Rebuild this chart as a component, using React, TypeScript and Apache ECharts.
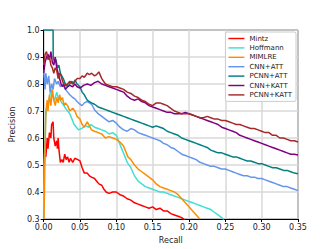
import React, { useEffect, useRef } from "react";
import * as echarts from "echarts";

const seriesNames = ["Mintz", "Hoffmann", "MIMLRE", "CNN+ATT", "PCNN+ATT", "CNN+KATT", "PCNN+KATT"];
const seriesColors = ["#ff0000", "#40e0d0", "#ff8c00", "#6495ed", "#008080", "#800080", "#a52a2a"];
const xTicks = [0, 0.05, 0.1, 0.15, 0.2, 0.25, 0.3, 0.35];
const yTicks = [0.3, 0.4, 0.5, 0.6, 0.7, 0.8, 0.9, 1.0];

const mintz = [[0.001,0.50],[0.002,0.58],[0.003,0.53],[0.005,0.6],[0.006,0.56],[0.008,0.62],[0.01,0.6],[0.011,0.65],[0.013,0.66],[0.014,0.60],[0.016,0.57],[0.018,0.59],[0.019,0.56],[0.02,0.60],[0.021,0.56],[0.023,0.51],[0.025,0.52],[0.027,0.51],[0.029,0.54],[0.031,0.52],[0.033,0.53],[0.035,0.51],[0.037,0.525],[0.04,0.51],[0.043,0.525],[0.047,0.52],[0.05,0.515],[0.053,0.49],[0.056,0.47],[0.06,0.47],[0.063,0.46],[0.066,0.455],[0.07,0.45],[0.073,0.44],[0.076,0.43],[0.08,0.425],[0.083,0.41],[0.086,0.40],[0.09,0.395],[0.095,0.40],[0.10,0.40],[0.105,0.39],[0.11,0.385],[0.115,0.375],[0.12,0.37],[0.125,0.36],[0.13,0.355],[0.135,0.35],[0.14,0.345],[0.145,0.34],[0.15,0.345],[0.155,0.335],[0.16,0.34],[0.165,0.33],[0.17,0.33],[0.175,0.32],[0.18,0.315],[0.185,0.31],[0.19,0.305],[0.195,0.295]];
const hoffmann = [[0,0.3],[0.0005,0.5],[0.002,0.6],[0.003,0.68],[0.005,0.72],[0.008,0.75],[0.01,0.78],[0.012,0.76],[0.015,0.74],[0.018,0.77],[0.02,0.75],[0.023,0.74],[0.025,0.73],[0.028,0.72],[0.03,0.71],[0.033,0.70],[0.036,0.69],[0.039,0.67],[0.042,0.65],[0.045,0.64],[0.048,0.63],[0.052,0.635],[0.055,0.64],[0.058,0.645],[0.062,0.64],[0.065,0.65],[0.07,0.64],[0.075,0.635],[0.08,0.63],[0.085,0.625],[0.09,0.615],[0.095,0.62],[0.10,0.61],[0.103,0.59],[0.106,0.57],[0.109,0.55],[0.112,0.53],[0.115,0.51],[0.12,0.49],[0.125,0.46],[0.13,0.44],[0.135,0.43],[0.14,0.42],[0.145,0.415],[0.15,0.41],[0.155,0.405],[0.16,0.40],[0.165,0.40],[0.17,0.395],[0.175,0.39],[0.18,0.385],[0.185,0.38],[0.19,0.375],[0.195,0.37],[0.20,0.365],[0.205,0.36],[0.21,0.355],[0.215,0.35],[0.22,0.345],[0.225,0.34],[0.23,0.335],[0.235,0.325],[0.24,0.315],[0.245,0.305],[0.248,0.298]];
const mimlre = [[0.0005,0.3],[0.002,0.55],[0.003,0.7],[0.005,0.74],[0.006,0.70],[0.008,0.76],[0.01,0.72],[0.012,0.78],[0.014,0.74],[0.016,0.72],[0.018,0.75],[0.02,0.73],[0.022,0.76],[0.024,0.74],[0.026,0.75],[0.028,0.72],[0.03,0.73],[0.033,0.72],[0.036,0.70],[0.04,0.71],[0.043,0.70],[0.046,0.68],[0.05,0.67],[0.053,0.65],[0.056,0.64],[0.06,0.66],[0.063,0.645],[0.066,0.63],[0.07,0.625],[0.075,0.62],[0.08,0.615],[0.085,0.60],[0.09,0.605],[0.095,0.60],[0.10,0.595],[0.105,0.585],[0.11,0.57],[0.113,0.55],[0.116,0.53],[0.12,0.52],[0.125,0.50],[0.13,0.485],[0.135,0.475],[0.14,0.465],[0.145,0.455],[0.15,0.445],[0.155,0.43],[0.16,0.42],[0.165,0.415],[0.17,0.41],[0.175,0.405],[0.18,0.40],[0.185,0.39],[0.19,0.375],[0.195,0.36],[0.20,0.345],[0.205,0.33],[0.21,0.315],[0.215,0.30]];
const cnnAtt = [[0,0.85],[0.002,0.78],[0.003,0.84],[0.005,0.80],[0.007,0.83],[0.009,0.77],[0.011,0.80],[0.013,0.78],[0.015,0.82],[0.018,0.80],[0.02,0.81],[0.023,0.79],[0.026,0.80],[0.03,0.78],[0.033,0.77],[0.036,0.76],[0.04,0.75],[0.043,0.745],[0.046,0.735],[0.05,0.725],[0.053,0.72],[0.056,0.73],[0.06,0.735],[0.063,0.73],[0.066,0.725],[0.07,0.705],[0.075,0.69],[0.08,0.68],[0.085,0.67],[0.09,0.66],[0.095,0.665],[0.10,0.655],[0.105,0.64],[0.11,0.63],[0.115,0.625],[0.12,0.635],[0.125,0.63],[0.13,0.62],[0.135,0.615],[0.14,0.61],[0.145,0.605],[0.15,0.60],[0.155,0.595],[0.16,0.59],[0.165,0.58],[0.17,0.575],[0.175,0.565],[0.18,0.56],[0.185,0.55],[0.19,0.54],[0.195,0.535],[0.20,0.53],[0.205,0.525],[0.21,0.52],[0.215,0.51],[0.22,0.505],[0.225,0.50],[0.23,0.495],[0.235,0.495],[0.24,0.49],[0.245,0.485],[0.25,0.485],[0.255,0.48],[0.26,0.475],[0.265,0.47],[0.27,0.465],[0.275,0.46],[0.28,0.46],[0.285,0.455],[0.29,0.455],[0.295,0.45],[0.30,0.45],[0.305,0.445],[0.31,0.44],[0.315,0.435],[0.32,0.43],[0.325,0.425],[0.33,0.42],[0.335,0.42],[0.34,0.415],[0.345,0.41],[0.35,0.405]];
const pcnnAtt = [[0,1.0],[0.013,1.0],[0.0132,0.90],[0.015,0.88],[0.017,0.89],[0.019,0.86],[0.021,0.87],[0.023,0.84],[0.025,0.83],[0.027,0.82],[0.03,0.80],[0.033,0.79],[0.036,0.80],[0.039,0.81],[0.041,0.80],[0.043,0.815],[0.046,0.80],[0.05,0.79],[0.053,0.77],[0.056,0.76],[0.06,0.74],[0.063,0.735],[0.066,0.73],[0.07,0.725],[0.075,0.715],[0.08,0.71],[0.085,0.705],[0.09,0.70],[0.095,0.695],[0.10,0.69],[0.105,0.685],[0.11,0.68],[0.115,0.675],[0.12,0.67],[0.125,0.665],[0.13,0.66],[0.135,0.655],[0.14,0.65],[0.145,0.645],[0.15,0.64],[0.155,0.645],[0.16,0.64],[0.165,0.635],[0.17,0.625],[0.175,0.62],[0.18,0.615],[0.185,0.61],[0.19,0.60],[0.195,0.595],[0.20,0.59],[0.205,0.585],[0.21,0.58],[0.215,0.575],[0.22,0.57],[0.225,0.565],[0.23,0.555],[0.235,0.55],[0.24,0.545],[0.245,0.545],[0.25,0.54],[0.255,0.535],[0.26,0.53],[0.265,0.53],[0.27,0.525],[0.275,0.52],[0.28,0.515],[0.285,0.515],[0.29,0.51],[0.295,0.505],[0.30,0.505],[0.305,0.50],[0.31,0.495],[0.315,0.49],[0.32,0.49],[0.325,0.485],[0.33,0.48],[0.335,0.48],[0.34,0.475],[0.345,0.47],[0.35,0.468]];
const cnnKatt = [[0,0.84],[0.002,0.88],[0.004,0.90],[0.006,0.91],[0.008,0.89],[0.01,0.92],[0.012,0.88],[0.014,0.87],[0.016,0.90],[0.018,0.86],[0.02,0.84],[0.022,0.82],[0.024,0.80],[0.026,0.79],[0.028,0.80],[0.03,0.78],[0.033,0.79],[0.036,0.795],[0.04,0.79],[0.043,0.80],[0.046,0.79],[0.05,0.785],[0.055,0.795],[0.06,0.80],[0.065,0.795],[0.07,0.805],[0.075,0.81],[0.08,0.80],[0.085,0.795],[0.09,0.79],[0.095,0.785],[0.10,0.78],[0.105,0.775],[0.11,0.77],[0.115,0.755],[0.12,0.745],[0.125,0.74],[0.13,0.745],[0.135,0.735],[0.14,0.73],[0.145,0.72],[0.15,0.715],[0.155,0.71],[0.16,0.705],[0.165,0.70],[0.17,0.695],[0.175,0.695],[0.18,0.69],[0.185,0.69],[0.19,0.69],[0.195,0.695],[0.20,0.69],[0.205,0.685],[0.21,0.68],[0.215,0.675],[0.22,0.67],[0.225,0.665],[0.23,0.66],[0.235,0.655],[0.24,0.65],[0.245,0.64],[0.25,0.635],[0.255,0.63],[0.26,0.625],[0.265,0.62],[0.27,0.61],[0.275,0.605],[0.28,0.60],[0.285,0.595],[0.29,0.59],[0.295,0.585],[0.30,0.58],[0.305,0.575],[0.31,0.57],[0.315,0.565],[0.32,0.56],[0.325,0.555],[0.33,0.55],[0.335,0.545],[0.34,0.54],[0.345,0.54],[0.35,0.537]];
const pcnnKatt = [[0,0.87],[0.002,0.91],[0.004,0.92],[0.006,0.89],[0.008,0.90],[0.01,0.87],[0.012,0.86],[0.014,0.84],[0.016,0.86],[0.018,0.85],[0.02,0.82],[0.022,0.84],[0.024,0.83],[0.026,0.81],[0.028,0.80],[0.03,0.795],[0.033,0.80],[0.036,0.81],[0.04,0.80],[0.043,0.81],[0.046,0.82],[0.05,0.82],[0.053,0.83],[0.056,0.825],[0.06,0.84],[0.063,0.835],[0.066,0.84],[0.07,0.83],[0.073,0.835],[0.076,0.845],[0.08,0.82],[0.085,0.80],[0.09,0.795],[0.095,0.79],[0.10,0.79],[0.105,0.785],[0.11,0.78],[0.115,0.77],[0.12,0.765],[0.125,0.755],[0.13,0.75],[0.135,0.74],[0.14,0.735],[0.145,0.725],[0.15,0.72],[0.155,0.73],[0.16,0.73],[0.165,0.725],[0.17,0.72],[0.175,0.71],[0.18,0.70],[0.185,0.695],[0.19,0.69],[0.195,0.69],[0.20,0.69],[0.205,0.685],[0.21,0.68],[0.215,0.675],[0.22,0.675],[0.225,0.68],[0.23,0.675],[0.235,0.67],[0.24,0.67],[0.245,0.665],[0.25,0.665],[0.255,0.66],[0.26,0.655],[0.265,0.65],[0.27,0.65],[0.275,0.645],[0.28,0.64],[0.285,0.635],[0.29,0.635],[0.295,0.63],[0.30,0.625],[0.305,0.62],[0.31,0.62],[0.315,0.61],[0.32,0.61],[0.325,0.60],[0.33,0.60],[0.335,0.595],[0.34,0.59],[0.345,0.59],[0.35,0.585]];

const seriesData = [mintz, hoffmann, mimlre, cnnAtt, pcnnAtt, cnnKatt, pcnnKatt];

const FONT = "DejaVu Sans";

export default function App() {
  const ref = useRef<HTMLDivElement>(null);
  useEffect(() => {
    if (!ref.current) return;
    const chart = echarts.init(ref.current, null, { renderer: "svg" });
    chart.setOption({
      animation: false,
      backgroundColor: "#ffffff",
      textStyle: { fontFamily: FONT },
      grid: {
        left: 41,
        right: 33,
        top: 30,
        bottom: 28,
        show: true,
        borderColor: "#000",
        borderWidth: 1,
        backgroundColor: "transparent",
      },
      legend: {
        orient: "vertical",
        right: 35,
        top: 32,
        padding: [3, 4, 3, 3],
        itemGap: 2.4,
        itemWidth: 16,
        itemHeight: 8,
        backgroundColor: "#fff",
        borderColor: "#cccccc",
        borderWidth: 1,
        borderRadius: 2,
        icon: "path://M0,0H20V1.8H0Z",
        textStyle: { fontFamily: FONT, fontSize: 7, color: "#222" },
        data: seriesNames,
      },
      xAxis: {
        type: "value",
        min: xTicks[0],
        max: xTicks[xTicks.length - 1],
        interval: 0.05,
        name: "Recall",
        nameLocation: "middle",
        nameGap: 17,
        nameTextStyle: { fontFamily: FONT, fontSize: 8, color: "#222" },
        axisLine: { show: true, lineStyle: { color: "#000", width: 1 } },
        axisTick: { show: true, length: 3, lineStyle: { color: "#000" } },
        axisLabel: {
          fontFamily: FONT,
          fontSize: 8,
          color: "#222",
          margin: 4,
          formatter: (v: number) => v.toFixed(2),
        },
        splitLine: { show: true, lineStyle: { color: "#d9d9d9", width: 1.5 } },
      },
      yAxis: {
        type: "value",
        min: yTicks[0],
        max: yTicks[yTicks.length - 1],
        interval: 0.1,
        name: "Precision",
        nameLocation: "middle",
        nameGap: 25,
        nameTextStyle: { fontFamily: FONT, fontSize: 8, color: "#222" },
        axisLine: { show: true, lineStyle: { color: "#000", width: 1 } },
        axisTick: { show: true, length: 3, lineStyle: { color: "#000" } },
        axisLabel: {
          fontFamily: FONT,
          fontSize: 8,
          color: "#222",
          margin: 4,
          formatter: (v: number) => v.toFixed(1),
        },
        splitLine: { show: true, lineStyle: { color: "#d9d9d9", width: 1.5 } },
      },
      series: seriesNames.map((name, i) => ({
        name,
        type: "line",
        data: seriesData[i],
        showSymbol: false,
        symbol: "none",
        clip: true,
        color: seriesColors[i],
        lineStyle: { color: seriesColors[i], width: 1.5 },
      })),
    });
    return () => chart.dispose();
  }, []);
  return <div ref={ref} style={{ width: 331, height: 249, position: "absolute", left: 0, top: 0 }} />;
}
